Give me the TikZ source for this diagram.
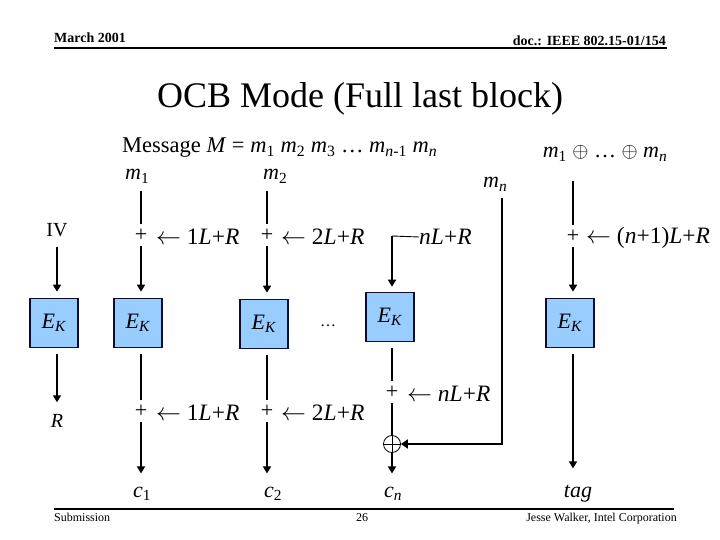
\documentclass[tikz,border=0pt]{standalone}
\usepackage{fontspec}
\setmainfont{Liberation Serif}
\usetikzlibrary{arrows.meta}
\definecolor{ekfill}{RGB}{153,204,255}
\definecolor{ekline}{RGB}{10,15,50}
\newcommand\ssb[1]{\textsubscript{#1}}
\newcommand\iv[1]{\textit{#1}}
\begin{document}
\begin{tikzpicture}[x=1pt,y=-1pt,
  lbl/.style={inner sep=0pt,font=\fontsize{20}{24}\selectfont},
  key/.style={inner sep=0pt,font=\fontsize{23.5}{26}\selectfont},
  big/.style={inner sep=0pt,font=\fontsize{22}{26}\selectfont},
  plus/.style={inner xsep=0pt,inner ysep=5pt,font=\fontsize{22}{26}\selectfont},
  ekbox/.style={draw=ekline,line width=1.6pt,fill=ekfill,minimum width=48pt,minimum height=49pt,inner sep=0pt,font=\fontsize{22}{26}\selectfont},
  feed/.style={line width=2.6pt},
  arr/.style={line width=1.6pt,-{Triangle[length=7pt,width=8pt]}},
  feedarr/.style={line width=2.6pt,-{Triangle[length=7pt,width=9pt]}},
  rule/.style={line width=2pt}]
\useasboundingbox (0,0) rectangle (720,540);

% header / footer
\node[anchor=base west,inner sep=0pt,font=\fontsize{14}{16}\selectfont\bfseries] (date) at (54,43) {March 2001};
\node[anchor=base east,inner sep=0pt,font=\fontsize{14}{16}\selectfont\bfseries] (doc) at (666,46) {doc.: IEEE 802.15-01/154};
\coordinate (hl) at (54,48); \coordinate (hr) at (667,48);
\draw[rule] (hl) -- (hr);
\coordinate (fl) at (54,509); \coordinate (fr) at (674,509);
\draw[rule] (fl) -- (fr);
\node[anchor=base west,inner sep=0pt,font=\fontsize{12}{14}\selectfont] (sub) at (54,521) {Submission};
\node[anchor=base,inner sep=0pt,font=\fontsize{12}{14}\selectfont] (page) at (362,521) {26};
\node[anchor=base east,inner sep=0pt,font=\fontsize{12}{14}\selectfont] (auth) at (677,521) {Jesse Walker, Intel Corporation};

% title
\node[anchor=base,inner sep=0pt,font=\fontsize{36}{40}\selectfont] (title) at (360,108) {OCB Mode (Full last block)};

% message line
\node[anchor=base west,inner sep=0pt,font=\fontsize{22.5}{26}\selectfont] (msg) at (122,153)
  {Message \iv{M} = \iv{m}\ssb{1} \iv{m}\ssb{2} \iv{m}\ssb{3} \ldots\ \iv{m}\ssb{\iv{n}-1} \iv{m}\ssb{\iv{n}}};
\node[anchor=base,big] (mx) at (605,158) {\iv{m}\ssb{1} $\oplus$ \ldots\ $\oplus$ \iv{m}\ssb{\iv{n}}};

% column 0
\node[lbl] (iv) at (57,230) {IV};
\node[ekbox] (e0) at (54,323) {\iv{E}\ssb{\iv{K}}};
\node[lbl] (r) at (57,421) {\iv{R}};
\draw[arr,shorten <=10pt,shorten >=6pt] (iv) -- (iv |- e0.north);
\draw[arr,shorten <=6pt,shorten >=12pt] (iv |- e0.south) -- (r);

% column 1
\node[anchor=base west,big] (m1) at (125,180) {\iv{m}\ssb{1}};
\coordinate (a1) at (141,191);
\node[plus] (p1) at (141,235) {+};
\node[key,anchor=west] (k1) at (156,237) {$\leftarrow$ 1\iv{L}+\iv{R}};
\node[ekbox] (e1) at (138,323) {\iv{E}\ssb{\iv{K}}};
\node[plus] (q1) at (141,411) {+};
\node[key,anchor=west] (j1) at (156,413) {$\leftarrow$ 1\iv{L}+\iv{R}};
\node[anchor=base west,big] (c1) at (133,497) {\iv{c}\ssb{1}};
\draw[feed] (a1) -- (p1);
\draw[arr,shorten >=6pt] (p1) -- (p1 |- e1.north);
\draw[feed,shorten <=6pt] (p1 |- e1.south) -- (q1);
\draw[arr,shorten >=13pt] (q1) -- (q1 |- c1.north);

% column 2
\node[anchor=base west,big] (m2) at (263,180) {\iv{m}\ssb{2}};
\coordinate (a2) at (267,191);
\node[plus] (p2) at (267,235) {+};
\node[key,anchor=west] (k2) at (281,237) {$\leftarrow$ 2\iv{L}+\iv{R}};
\node[ekbox] (e2) at (264,324) {\iv{E}\ssb{\iv{K}}};
\node[plus] (q2) at (267,411) {+};
\node[key,anchor=west] (j2) at (281,413) {$\leftarrow$ 2\iv{L}+\iv{R}};
\node[anchor=base west,big] (c2) at (264,497) {\iv{c}\ssb{2}};
\draw[feed] (a2) -- (p2);
\draw[arr,shorten >=6pt] (p2) -- (p2 |- e2.north);
\draw[feed,shorten <=6pt] (p2 |- e2.south) -- (q2);
\draw[arr,shorten >=13pt] (q2) -- (q2 |- c2.north);

\node[inner sep=0pt,font=\fontsize{16}{18}\selectfont] (dots) at (328,326) {\ldots};

% column 3
\coordinate (n0) at (392,236);
\node[key,anchor=west] (nl) at (419,237) {\iv{n}\iv{L}+\iv{R}};
\node[ekbox] (e3) at (390,317) {\iv{E}\ssb{\iv{K}}};
\node[plus] (q3) at (392,392) {+};
\node[key,anchor=west] (j3) at (407,394) {$\leftarrow$ \iv{n}\iv{L}+\iv{R}};
\node[circle,draw,line width=0.8pt,minimum size=17pt,inner sep=0pt,
  path picture={\draw[line width=0.8pt] (path picture bounding box.north) -- (path picture bounding box.south)
     (path picture bounding box.west) -- (path picture bounding box.east);}] (ox) at (392,444) {};
\node[anchor=base west,big] (cn) at (384,497) {\iv{c}\ssb{\iv{n}}};
\draw[line width=0.9pt] (nl.west) -- (n0);
\draw[arr,shorten >=5pt] (n0) -- (n0 |- e3.north);
\draw[feed,shorten <=6pt] (q3 |- e3.south) -- (q3);
\draw[feed] (q3) -- (ox);
\draw[arr,shorten >=13pt] (ox) -- (ox |- cn.north);

% m_n feed
\node[anchor=base west,big] (mn) at (483,188) {\iv{m}\ssb{\iv{n}}};
\coordinate (rt) at (502,198);
\draw[feedarr] (rt) |- (ox.east);

% column 5
\coordinate (a5) at (573,181);
\node[plus] (p5) at (573,236) {+};
\node[key,anchor=west] (k5) at (586,238) {$\leftarrow$ (\iv{n}+1)\iv{L}+\iv{R}};
\node[ekbox] (e5) at (570,323) {\iv{E}\ssb{\iv{K}}};
\node[anchor=base,big] (tag) at (578,497) {\iv{tag}};
\draw[feed] (a5) -- (p5);
\draw[arr,shorten >=6pt] (p5) -- (p5 |- e5.north);
\draw[arr,shorten <=6pt,shorten >=16pt] (p5 |- e5.south) -- (p5 |- tag.north);
\end{tikzpicture}
\end{document}
